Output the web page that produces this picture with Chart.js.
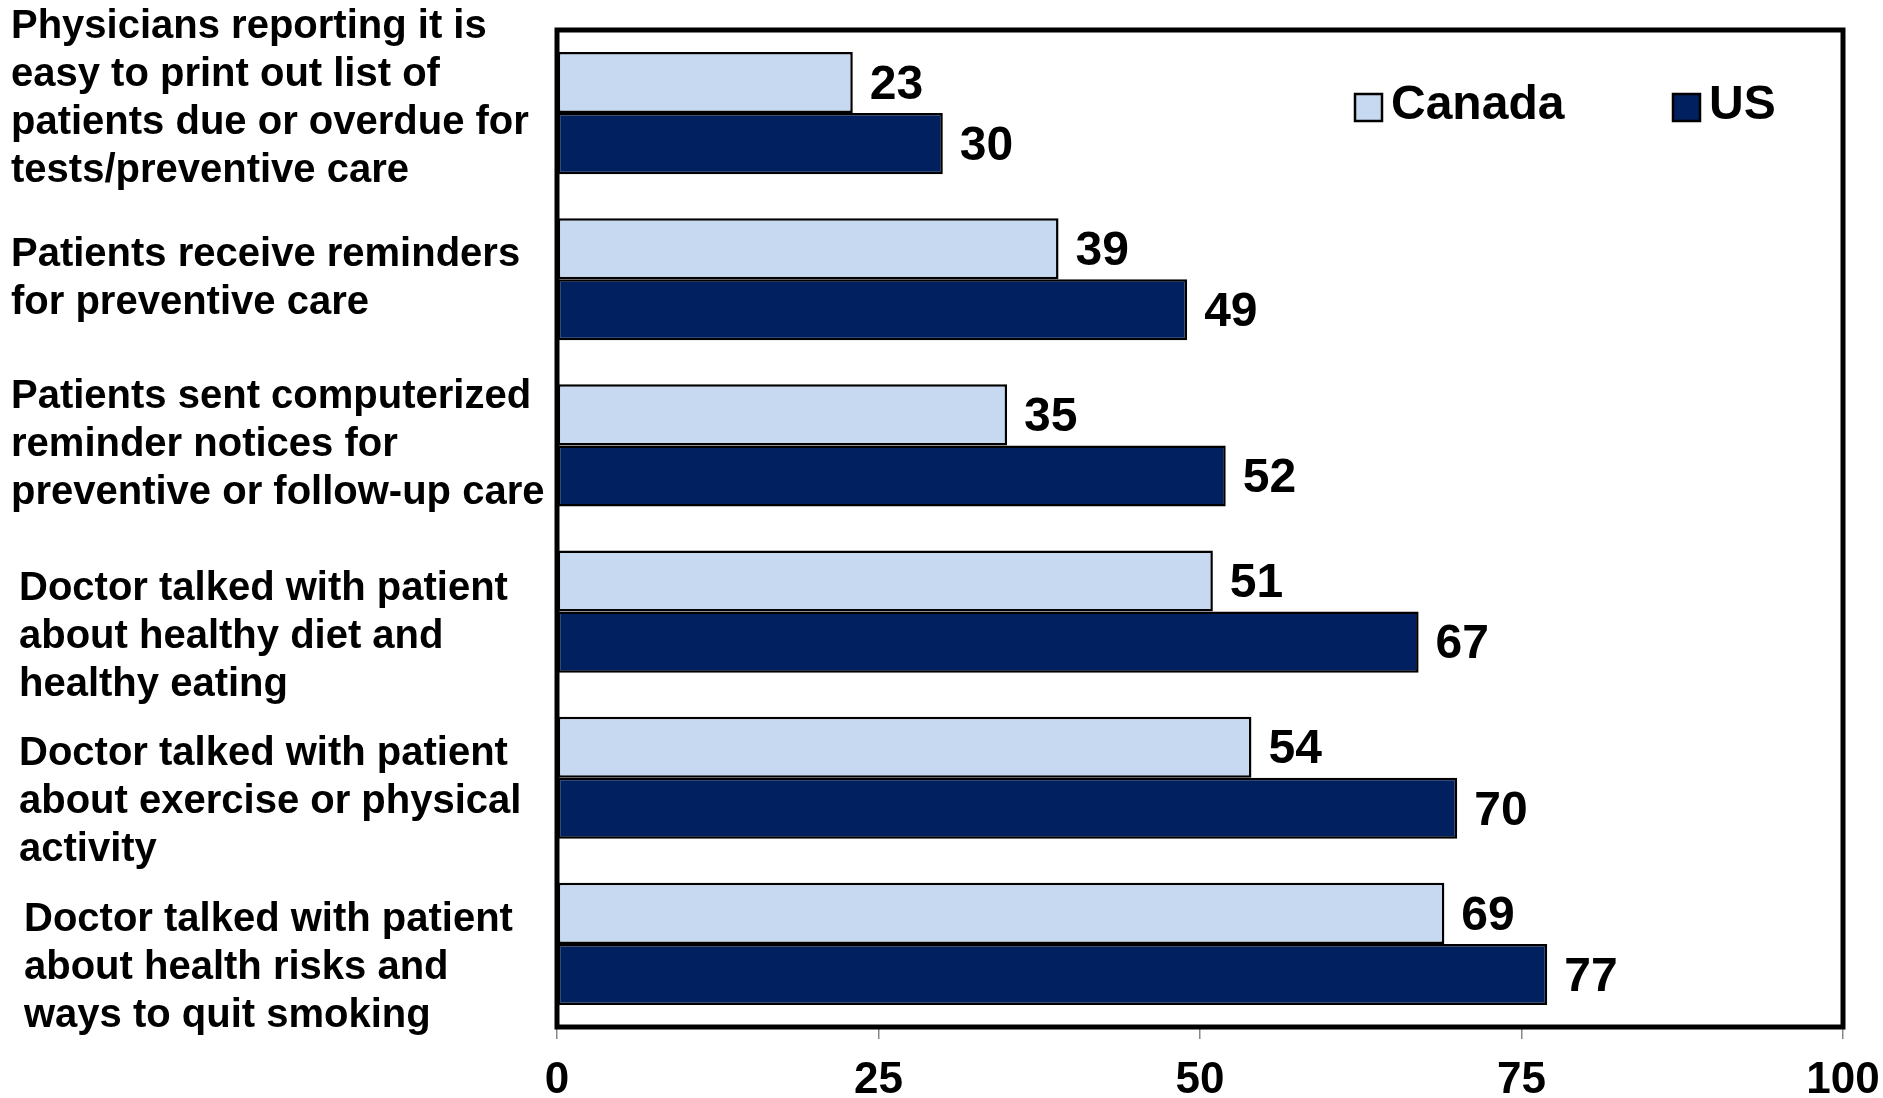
<!DOCTYPE html>
<html>
<head>
<meta charset="utf-8">
<script src="https://cdn.jsdelivr.net/npm/chart.js@4.4.1/dist/chart.umd.min.js"></script>
<style>
  html,body{margin:0;padding:0;background:#fff}
  #wrap{position:relative;width:1883px;height:1098px}
</style>
</head>
<body>
<div id="wrap"><canvas id="ch"></canvas></div>
<script>
// ── data ─────────────────────────────────────────────
const categories=[
  ['Physicians reporting it is','easy to print out list of','patients due or overdue for','tests/preventive care'],
  ['Patients receive reminders','for preventive care'],
  ['Patients sent computerized','reminder notices for','preventive or follow-up care'],
  ['Doctor talked with patient','about healthy diet and','healthy eating'],
  ['Doctor talked with patient','about exercise or physical','activity'],
  ['Doctor talked with patient','about health risks and','ways to quit smoking'],
];
const canada=[23,39,35,51,54,69];
const us=[30,49,52,67,70,77];
const xTicks=[0,25,50,75,100];

const FONT='"Liberation Sans", Arial, sans-serif';
const C={canada:'#C6D9F0',us:'#00205F'};
// hand placement of the category text blocks (as in the slide)
const labelNudge=[[0,-14],[0,0],[0,0],[8,25],[8,24],[13,24]];

// frame round the plot area
const framePlugin={
  id:'frame',
  afterDatasetsDraw(chart){
    const {ctx,chartArea:a}=chart;
    ctx.save();
    ctx.lineWidth=5;ctx.strokeStyle='#000';
    ctx.strokeRect(a.left,a.top,a.right-a.left,a.bottom-a.top);
    ctx.restore();
  }
};

// category text, left aligned, placed from the y scale
const catPlugin={
  id:'cats',
  afterDraw(chart){
    const {ctx}=chart, y=chart.scales.y;
    ctx.save();
    ctx.font='bold 40px '+FONT;
    ctx.fillStyle='#000';ctx.textAlign='left';ctx.textBaseline='middle';
    const lh=48;
    chart.data.labels.forEach((lines,i)=>{
      const [dx,dy]=labelNudge[i]||[0,0];
      const cy=y.getPixelForTick(i)+dy;
      const y0=cy-(lines.length-1)*lh/2;
      lines.forEach((t,k)=>ctx.fillText(t,chart.chartArea.left-546+dx,y0+k*lh));
    });
    ctx.restore();
  }
};

// value labels at bar ends
const valuePlugin={
  id:'values',
  afterDatasetsDraw(chart){
    const {ctx}=chart;
    ctx.save();
    ctx.font='bold 48px '+FONT;
    ctx.fillStyle='#000';ctx.textAlign='left';ctx.textBaseline='middle';
    chart.data.datasets.forEach((ds,di)=>{
      chart.getDatasetMeta(di).data.forEach((bar,i)=>{
        ctx.fillText(String(ds.data[i]),bar.x+17,bar.y+3);
      });
    });
    ctx.restore();
  }
};

// legend inside the plot, top right
const legendPlugin={
  id:'inLegend',
  afterDraw(chart){
    const {ctx,chartArea:a}=chart;
    ctx.save();
    ctx.font='bold 48px '+FONT;
    ctx.textBaseline='middle';ctx.textAlign='left';
    const starts=[a.right-488,a.right-170];
    chart.data.datasets.forEach((ds,i)=>{
      const x=starts[i],y=a.top+64;
      ctx.fillStyle=ds.backgroundColor;
      ctx.fillRect(x,y,27,27);
      ctx.lineWidth=2.5;ctx.strokeStyle='#000';
      ctx.strokeRect(x,y,27,27);
      ctx.fillStyle='#000';
      ctx.fillText(ds.label,x+36,y+12);
    });
    ctx.restore();
  }
};

const noPad=s=>{s.paddingTop=0;s.paddingBottom=0;s.paddingLeft=0;s.paddingRight=0;};

new Chart(document.getElementById('ch'),{
  type:'bar',
  data:{
    labels:categories,
    datasets:[
      {label:'Canada',data:canada,backgroundColor:C.canada,borderColor:'#000',borderWidth:2.5,borderSkipped:false,categoryPercentage:0.735,barPercentage:1},
      {label:'US',data:us,backgroundColor:C.us,borderColor:'#000',borderWidth:2.5,borderSkipped:false,categoryPercentage:0.735,barPercentage:1},
    ]
  },
  options:{
    indexAxis:'y',
    responsive:true,maintainAspectRatio:false,animation:false,
    layout:{padding:{left:11,right:40,top:30,bottom:0}},
    plugins:{legend:{display:false},tooltip:{enabled:false}},
    scales:{
      x:{
        min:0,max:100,
        afterBuildTicks:s=>{s.ticks=xTicks.map(v=>({value:v}));},
        afterFit:s=>{s.height=71;noPad(s);},
        grid:{drawOnChartArea:false,drawTicks:true,tickLength:12,color:'#888',lineWidth:1.5},
        border:{display:false},
        ticks:{font:{family:FONT,size:44,weight:'bold'},color:'#000',padding:15,maxRotation:0}
      },
      y:{
        afterFit:s=>{s.width=546;noPad(s);},
        grid:{display:false},
        border:{display:false},
        ticks:{display:false,autoSkip:false}
      }
    }
  },
  plugins:[framePlugin,valuePlugin,legendPlugin,catPlugin]
});
</script>
</body>
</html>
